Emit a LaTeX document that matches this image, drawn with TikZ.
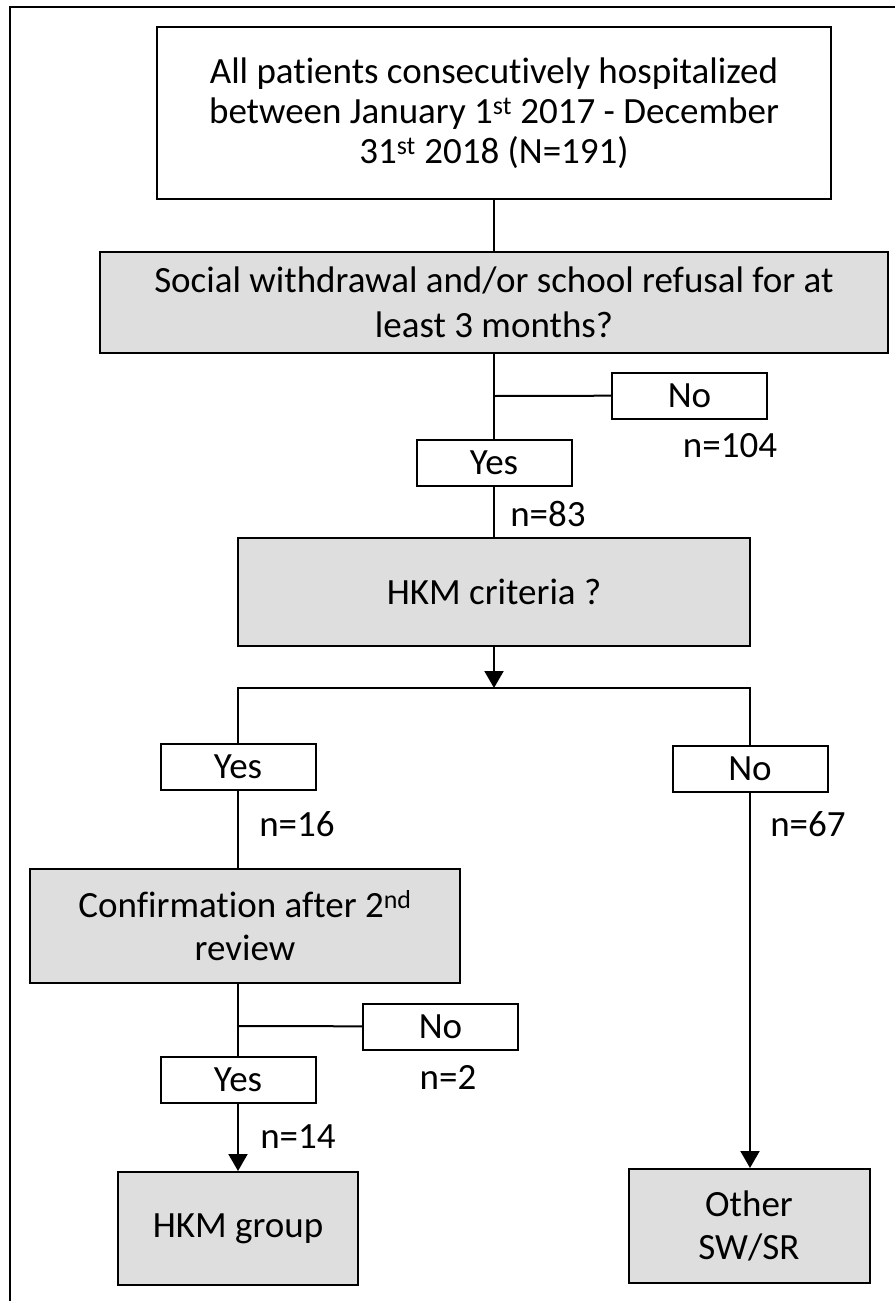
\documentclass[tikz,border=0pt]{standalone}
\usepackage{fontspec}
\setmainfont{Carlito}[Ligatures=NoCommon]
\usetikzlibrary{calc, arrows.meta}
\definecolor{boxgrey}{RGB}{222,222,222}

\begin{document}
\begin{tikzpicture}[x=1pt, y=-1pt, every node/.style={font=\fontsize{37}{43}\selectfont}]
    \tikzstyle{question} = [rectangle, draw=black, fill=boxgrey, line width=2pt,
        align=center, inner sep=0pt]
    \tikzstyle{answer} = [rectangle, draw=black, fill=white, line width=2pt,
        minimum width=155pt, minimum height=46pt, inner sep=0pt]
    \tikzstyle{link} = [line width=2pt]
    \tikzstyle{arrow} = [line width=2pt, -{Triangle[width=19pt, length=17pt]}]

    \useasboundingbox (0, 0) rectangle (895, 1301);
    \draw [line width=2.5pt] (10, 1301) -- (10, 7) -- (895, 7);

    % Screening -----------------------------------------
    \node (all) at (494, 113) [question, fill=white, minimum width=674pt,
        minimum height=172pt, font=\fontsize{37}{40}\selectfont]
        {All patients consecutively hospitalized\\
        between January 1\textsuperscript{st} 2017 - December\\
        31\textsuperscript{st} 2018 (N=191)};
    \node (swsr) at (494, 302.5) [question, minimum width=788pt,
        minimum height=101pt, font=\fontsize{37}{45}\selectfont]
        {Social withdrawal and/or school refusal for at\\
        least 3 months?};

    \node (no1) at (689.5, 395.5) [answer] {No};
    \node (n104) at (730, 446) {n=104};
    \node (yes1) at (494, 463) [answer] {Yes};
    \node (n83) at (548, 514) {n=83};

    \node (hkm) at (494, 592) [question, minimum width=512pt,
        minimum height=108pt] {HKM criteria ?};

    \coordinate (split1) at (494, 396);
    \draw [link] (all) -- (swsr);
    \draw [link] (swsr) -- (yes1);
    \draw [link] (split1) -- (no1);
    \draw [link] (yes1) -- (hkm);
    % ---------------------------------------------------

    % HKM branches --------------------------------------
    \coordinate (split2) at (494, 688);
    \node (yes2) at (238, 766.5) [answer] {Yes};
    \node (n16) at (297, 824) {n=16};
    \node (no2) at (750, 768.5) [answer] {No};
    \node (n67) at (808, 824) {n=67};

    \draw [arrow] (hkm) -- (split2);
    \draw [link] (yes2) |- (split2) -| (no2);

    % Second review
    \node (review) at (245, 926) [question, minimum width=430pt,
        minimum height=114pt] {Confirmation after 2\textsuperscript{nd}\\ review};
    \draw [link] (yes2.south) -- (yes2.south |- review.north);

    \node (no3) at (440.5, 1026.5) [answer] {No};
    \node (n2) at (448, 1077) {n=2};
    \node (yes3) at (238, 1079.5) [answer] {Yes};
    \node (n14) at (298, 1137) {n=14};
    \coordinate (split3) at (238, 1026);

    \draw [link] (yes3.north |- review.south) -- (yes3);
    \draw [link] (split3) -- (no3);

    % Groups
    \node (group) at (238, 1228.5) [question, minimum width=240pt,
        minimum height=113pt] {HKM group};
    \node (other) at (749, 1226) [question, minimum width=241pt,
        minimum height=114pt] {Other\\ SW/SR};

    \draw [arrow] (yes3) -- (group);
    \draw [arrow] (no2.south) -- (no2.south |- other.north);
\end{tikzpicture}
\end{document}
